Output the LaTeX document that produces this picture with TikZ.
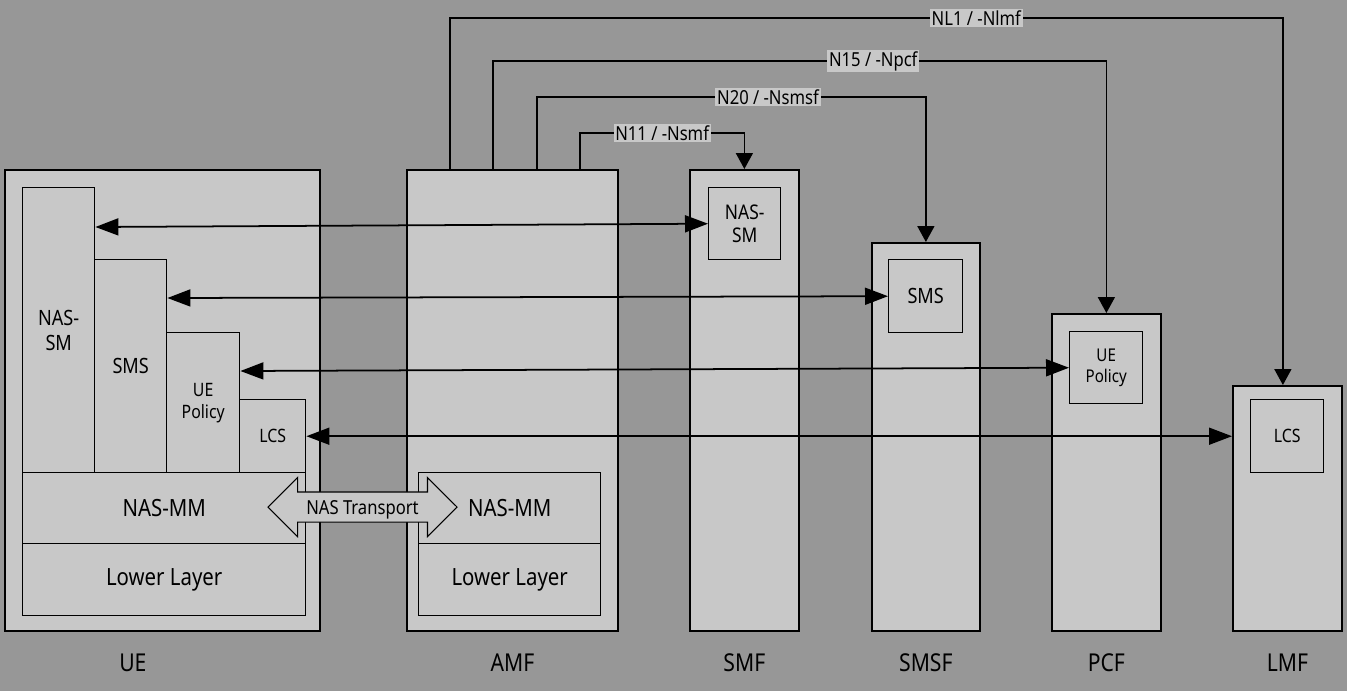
\documentclass[tikz,border=0pt]{standalone}
\usepackage{fontspec}
\setmainfont{Noto Sans}[FakeStretch=0.86]
\usepackage{tikz}
\usetikzlibrary{arrows.meta, positioning, shapes.arrows}
\definecolor{bggray}{RGB}{151,151,151}
\definecolor{boxgray}{RGB}{200,200,200}

\begin{document}
\begin{tikzpicture}[>={Triangle[length=0.46cm,width=0.34cm]},
	outer/.style={draw, line width=1pt, fill=boxgray, anchor=north west, inner sep=0pt},
	inner/.style={draw, line width=0.8pt, fill=boxgray, anchor=north west, inner sep=0pt, align=center},
	link/.style={<->, line width=1pt},
	iface/.style={->, line width=1pt, >={Triangle[length=0.32cm,width=0.34cm]}},
	lbl/.style={fill=boxgray, inner sep=1pt, font=\fontsize{11}{12}\selectfont},
	nf/.style={font=\fontsize{14}{16}\selectfont}]
	\fill[bggray] (0,0) rectangle (26.94,-13.82);
	% network functions
	\node[outer, minimum width=6.30cm, minimum height=9.22cm] (ue) at (0.08,-3.38) {};
	\node[outer, minimum width=4.22cm, minimum height=9.22cm] (amf) at (8.12,-3.38) {};
	\node[outer, minimum width=2.18cm, minimum height=9.22cm] (smf) at (13.78,-3.38) {};
	\node[outer, minimum width=2.16cm, minimum height=7.76cm] (smsf) at (17.42,-4.84) {};
	\node[outer, minimum width=2.18cm, minimum height=6.34cm] (pcf) at (21.02,-6.26) {};
	\node[outer, minimum width=2.18cm, minimum height=4.90cm] (lmf) at (24.64,-7.70) {};
	\node[nf] (uel) at ([xshift=-0.59cm,yshift=-0.62cm]ue.south) {UE};
	\node[nf] (amfl) at ([yshift=-0.62cm]amf.south) {AMF};
	\node[nf] (smfl) at ([yshift=-0.62cm]smf.south) {SMF};
	\node[nf] (smsfl) at ([yshift=-0.62cm]smsf.south) {SMSF};
	\node[nf] (pcfl) at ([yshift=-0.62cm]pcf.south) {PCF};
	\node[nf] (lmfl) at ([yshift=-0.62cm]lmf.south) {LMF};
	% UE stack
	\node[inner, minimum width=1.44cm, minimum height=5.70cm, font=\fontsize{12}{14}\selectfont] (uesm) at (0.44,-3.74) {NAS-\\SM};
	\node[inner, minimum width=1.44cm, minimum height=4.26cm, font=\fontsize{12}{14}\selectfont] (uesms) at (1.88,-5.18) {SMS};
	\node[inner, minimum width=1.46cm, minimum height=2.80cm, font=\fontsize{10.5}{12.5}\selectfont] (uepol) at (3.32,-6.64) {UE\\Policy};
	\node[inner, minimum width=1.32cm, minimum height=1.46cm, font=\fontsize{10.5}{12.5}\selectfont] (uelcs) at (4.78,-7.98) {LCS};
	\node[inner, minimum width=5.66cm, minimum height=1.42cm, font=\fontsize{13.5}{15}\selectfont] (uemm) at (0.44,-9.44) {NAS-MM};
	\node[inner, minimum width=5.66cm, minimum height=1.44cm, font=\fontsize{13.5}{15}\selectfont] (uell) at (0.44,-10.86) {Lower Layer};
	% AMF stack
	\node[inner, minimum width=3.64cm, minimum height=1.42cm, font=\fontsize{13.5}{15}\selectfont] (amfmm) at (8.36,-9.44) {NAS-MM};
	\node[inner, minimum width=3.64cm, minimum height=1.44cm, font=\fontsize{13.5}{15}\selectfont] (amfll) at (8.36,-10.86) {Lower Layer};
	% peer entities
	\node[inner, minimum width=1.44cm, minimum height=1.44cm, font=\fontsize{11.5}{13.5}\selectfont] (smfsm) at (14.16,-3.74) {NAS-\\SM};
	\node[inner, minimum width=1.48cm, minimum height=1.46cm, font=\fontsize{12}{14}\selectfont] (smsfsms) at (17.76,-5.18) {SMS};
	\node[inner, minimum width=1.46cm, minimum height=1.44cm, font=\fontsize{10}{12}\selectfont] (pcfpol) at (21.38,-6.62) {UE\\Policy};
	\node[inner, minimum width=1.46cm, minimum height=1.46cm, font=\fontsize{10.5}{12.5}\selectfont] (lmflcs) at (25.00,-7.98) {LCS};
	\node[double arrow, draw, fill=boxgray, line width=0.6pt, minimum height=3.78cm, minimum width=1.16cm, double arrow head extend=0.29cm, inner xsep=0pt, inner ysep=0.15cm, text depth=0pt, font=\fontsize{11}{12}\selectfont] (trans) at (7.25,-10.14) {NAS Transport};
	% transparent NAS messages
	\draw[link] ([yshift=-0.80cm]uesm.north east) -- (smfsm.west);
	\draw[link] ([yshift=-0.78cm]uesms.north east) -- (smsfsms.west);
	\draw[link] ([yshift=-0.78cm]uepol.north east) -- (pcfpol.west);
	\draw[link] (uelcs.east) -- (lmflcs.west -| lmf.west);
	% service based interfaces
	\draw[iface] ([xshift=-1.25cm]amf.north) -- ++(0,3.02) -| ([xshift=-0.09cm]lmf.north) node[lbl, pos=0.316] {NL1 / -Nlmf};
	\draw[iface] ([xshift=-0.39cm]amf.north) -- ++(0,2.16) -| (pcf.north) node[lbl, pos=0.31] {N15 / -Npcf};
	\draw[iface] ([xshift=0.49cm]amf.north) -- ++(0,1.44) -| (smsf.north) node[lbl, pos=0.297] {N20 / -Nsmsf};
	\draw[iface] ([xshift=1.35cm]amf.north) -- ++(0,0.72) -| (smf.north) node[lbl, pos=0.25] {N11 / -Nsmf};
\end{tikzpicture}
\end{document}
